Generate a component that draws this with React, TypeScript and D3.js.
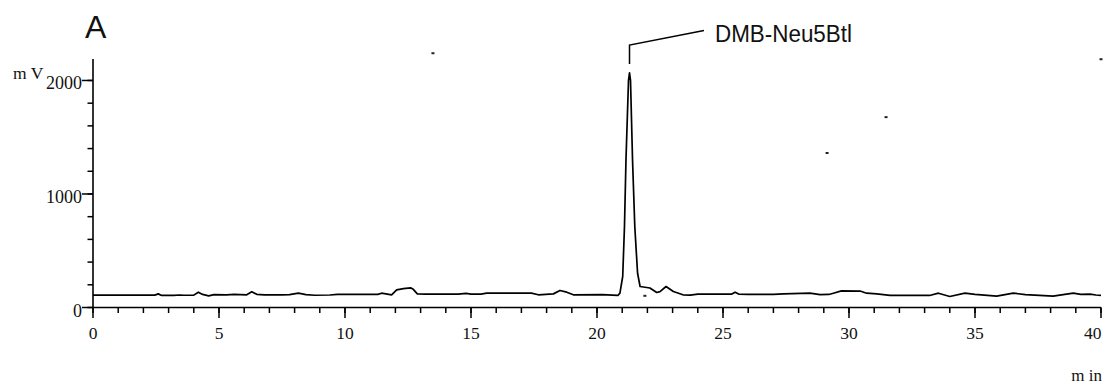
import React from "react";
import * as d3 from "d3";

// Chromatogram trace: [time (min), signal (mV)]
const trace: [number, number][] = [
  [0, 109], [2.45, 109], [2.59, 120], [2.72, 106], [3.2, 106], [3.45, 110], [3.6, 108], [4.0, 109],
  [4.18, 135], [4.35, 115], [4.59, 103], [4.8, 113], [5.3, 112], [5.6, 115], [6.1, 112],
  [6.3, 138], [6.5, 116], [6.8, 112], [7.5, 112], [7.8, 114], [8.15, 126], [8.45, 114],
  [8.8, 108], [9.4, 110], [9.7, 115], [11.3, 116], [11.45, 126], [11.85, 112],
  [12.05, 156], [12.32, 167], [12.6, 173], [12.71, 160], [12.87, 120], [13.2, 118],
  [14.5, 118], [14.8, 124], [15.0, 118], [15.4, 118], [15.62, 126], [17.4, 126],
  [17.67, 112], [18.27, 120], [18.53, 150], [18.8, 135], [19.06, 112], [20.2, 114],
  [20.83, 106], [20.91, 127], [21.02, 273], [21.09, 712], [21.15, 1299], [21.25, 2000],
  [21.29, 2067], [21.33, 2000],
  [21.41, 1299], [21.5, 712], [21.61, 302], [21.71, 185], [22.1, 172], [22.37, 132],
  [22.5, 140], [22.74, 185], [23.03, 141], [23.41, 112], [23.7, 109], [24.0, 118],
  [25.35, 118], [25.48, 135], [25.62, 118], [26.0, 115], [27.0, 115], [27.4, 120],
  [28.45, 126], [28.85, 113], [29.2, 115], [29.38, 126], [29.7, 147], [30.44, 145],
  [30.7, 126], [31.1, 120], [31.63, 106], [33.2, 106], [33.55, 126], [34.0, 97],
  [34.6, 126], [35.0, 116], [35.86, 100], [36.52, 126], [37.0, 114], [38.1, 100],
  [38.9, 126], [39.2, 116], [39.56, 118], [39.8, 110], [40.0, 106],
];

// Stray specks visible in the scanned figure: [time (min), mV]
const specks: [number, number][] = [
  [13.49, 2240], [40.0, 2187], [31.47, 1677], [29.13, 1361], [21.9, 103],
];

const xMajorTicks = [0, 5, 10, 15, 20, 25, 30, 35, 40];
const xMinorTicks = d3.range(0, 41, 1);
const yMajorTicks = [0, 1000, 2000];
const yMinorTicks = d3.range(0, 2200, 200);

const panelLabel = "A";
const peakLabel = "DMB-Neu5Btl";
const peakTime = 21.29;
const yUnit = "m V";
const xUnit = "m in";

const W = 1106;
const H = 385;

export default function App() {
  const x = d3.scaleLinear().domain([0, 40]).range([93, 1101]);
  const y = d3.scaleLinear().domain([0, 2190]).range([307.5, 58.9]);
  const line = d3
    .line<[number, number]>()
    .x((d) => x(d[0]))
    .y((d) => y(d[1]));

  const x0 = x(0);
  const y0 = y(0);
  const serif = "'Liberation Serif', 'DejaVu Serif', serif";
  const sans = "'Liberation Sans', Arial, sans-serif";
  const px = x(peakTime);

  return (
    <svg
      width={W}
      height={H}
      style={{ position: "absolute", left: 0, top: 0, background: "#fff" }}
    >
      <rect x={0} y={0} width={W} height={H} fill="#fff" />
      {/* panel label */}
      <text x={85} y={38} fontFamily={sans} fontSize={32} fill="#111">
        {panelLabel}
      </text>

      {/* y axis */}
      <line x1={x0} x2={x0} y1={y(2190)} y2={y0} stroke="#000" strokeWidth={1.6} />
      {yMinorTicks.map((t) => (
        <line key={"ym" + t} x1={x0 - 5.5} x2={x0} y1={y(t)} y2={y(t)} stroke="#000" strokeWidth={1.5} />
      ))}
      {yMajorTicks.map((t) => (
        <g key={"yM" + t}>
          <line x1={x0 - 11} x2={x0} y1={y(t)} y2={y(t)} stroke="#000" strokeWidth={1.5} />
          <text
            x={x0 - 11}
            y={y(t) + 9}
            textAnchor="end"
            fontFamily={serif}
            fontSize={18}
            fill="#111"
          >
            {t}
          </text>
        </g>
      ))}
      <text x={13} y={79} fontFamily={serif} fontSize={17.5} fill="#111">
        {yUnit}
      </text>

      {/* x axis */}
      <line x1={x0} x2={x(40)} y1={y0} y2={y0} stroke="#000" strokeWidth={1.6} />
      {xMinorTicks.map((t) => (
        <line key={"xm" + t} x1={x(t)} x2={x(t)} y1={y0} y2={y0 + 5.5} stroke="#000" strokeWidth={1.5} />
      ))}
      {xMajorTicks.map((t, i) => (
        <g key={"xM" + t}>
          <line x1={x(t)} x2={x(t)} y1={y0} y2={y0 + 10.5} stroke="#000" strokeWidth={1.5} />
          <text
            x={i === xMajorTicks.length - 1 ? x(t) + 0.5 : x(t)}
            y={338.5}
            textAnchor={i === xMajorTicks.length - 1 ? "end" : "middle"}
            fontFamily={serif}
            fontSize={17.5}
            fill="#111"
          >
            {t}
          </text>
        </g>
      ))}
      <text x={1102} y={380.5} textAnchor="end" fontFamily={serif} fontSize={17} fill="#111">
        {xUnit}
      </text>

      {/* trace */}
      <path d={line(trace) || ""} fill="none" stroke="#000" strokeWidth={1.7} strokeLinejoin="round" />

      {/* peak annotation */}
      <polyline
        points={`${px},64 ${px},45 704,30.5`}
        fill="none"
        stroke="#000"
        strokeWidth={1.5}
      />
      <text
        x={715}
        y={41.7}
        fontFamily={sans}
        fontSize={23}
        fill="#111"
        textLength={137}
        lengthAdjust="spacingAndGlyphs"
      >
        {peakLabel}
      </text>

      {/* specks */}
      {specks.map((s, i) => (
        <rect key={"s" + i} x={x(s[0]) - 1.5} y={y(s[1]) - 1} width={3} height={2} fill="#222" />
      ))}
    </svg>
  );
}
